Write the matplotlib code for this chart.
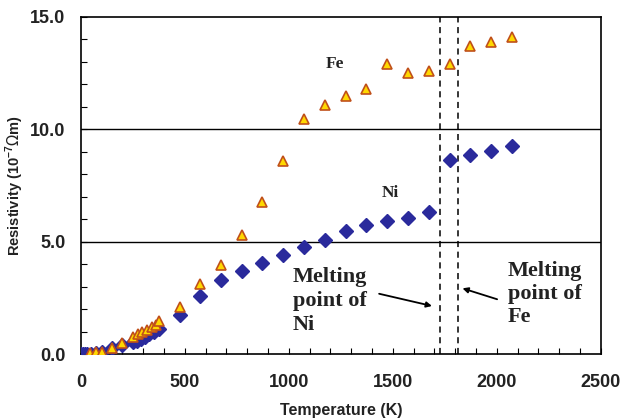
import numpy as np
import matplotlib
matplotlib.use("Agg")
import matplotlib.pyplot as plt
from matplotlib.ticker import MultipleLocator, FormatStrFormatter

# Fe resistivity (10^-7 Ohm m) vs temperature (K)
fe_T = [45, 75, 100, 150, 200, 250, 275, 295, 320, 340, 360, 375,
        475, 573, 673, 773, 873, 973, 1073, 1173, 1273, 1373, 1473,
        1573, 1673, 1773, 1873, 1973, 2073]
fe_rho = [0.03, 0.08, 0.10, 0.28, 0.50, 0.77, 0.87, 0.96, 1.07, 1.19, 1.29, 1.47,
          2.10, 3.11, 3.98, 5.29, 6.77, 8.58, 10.47, 11.07, 11.47, 11.80, 12.89,
          12.50, 12.59, 12.89, 13.69, 13.89, 14.10]

# Ni
ni_T = [0, 10, 20, 30, 50, 75, 100, 150, 200, 250, 270, 290, 310, 330, 350, 375,
        475, 573, 673, 773, 873, 973, 1073, 1173, 1273, 1373, 1473,
        1573, 1673, 1773, 1873, 1973, 2073]
ni_rho = [0.0, 0.0, 0.0, 0.0, 0.02, 0.05, 0.10, 0.25, 0.40, 0.52, 0.60, 0.68, 0.77,
          0.87, 0.97, 1.12,
          1.73, 2.58, 3.29, 3.70, 4.03, 4.40, 4.74, 5.07, 5.47, 5.76, 5.91,
          6.03, 6.30, 8.62, 8.84, 9.04, 9.26]

melt_ni = 1728
melt_fe = 1811

fig = plt.figure(figsize=(6.22, 4.2), dpi=100)
ax = fig.add_axes([0.130, 0.157, 0.836, 0.803])

ax.plot(ni_T, ni_rho, linestyle="none", marker="D", markersize=7,
        color="#2a2a9c", markeredgecolor="#2a2a9c", zorder=3)
ax.plot(fe_T, fe_rho, linestyle="none", marker="^", markersize=7,
        markerfacecolor="#ffd800", markeredgecolor="#c0501a",
        markeredgewidth=1.2, zorder=4)

for v in (5, 10):
    ax.axhline(v, color="black", linewidth=1.0, zorder=1)
for m in (melt_ni, melt_fe):
    ax.axvline(m, color="black", linewidth=1.1, linestyle=(0, (4, 3)), zorder=2)

ax.set_xlim(0, 2500)
ax.set_ylim(0, 15)
ax.xaxis.set_major_locator(MultipleLocator(500))
ax.xaxis.set_minor_locator(MultipleLocator(100))
ax.yaxis.set_major_locator(MultipleLocator(5))
ax.yaxis.set_minor_locator(MultipleLocator(1))
ax.yaxis.set_major_formatter(FormatStrFormatter("%.1f"))
ax.tick_params(which="both", direction="in", length=4, width=0.8)
ax.tick_params(axis="x", which="major", labelsize=13, pad=14)
ax.tick_params(axis="y", which="major", labelsize=13, pad=11)
for lab in ax.get_xticklabels() + ax.get_yticklabels():
    lab.set_fontweight("bold")
    lab.set_family("Liberation Sans")
    lab.set_color("#222222")
for s in ax.spines.values():
    s.set_linewidth(1.2)

ax.set_xlabel("Temperature (K)", fontsize=11.5, fontweight="bold",
              family="Liberation Sans", labelpad=9, color="#222222")
ax.set_ylabel(r"Resistivity (10$^{\mathregular{-7}}$$\Omega$m)", fontsize=10.5,
              fontweight="bold", family="Liberation Sans", color="#222222")
ax.yaxis.set_label_coords(-0.106, 0.5)

serif = dict(family="Liberation Serif", fontweight="bold", color="#222222")
ax.text(1220, 12.9, "Fe", fontsize=12.5, ha="center", va="center", **serif)
ax.text(1486, 7.15, "Ni", fontsize=12.5, ha="center", va="center", **serif)
ax.text(1019, 2.35, "Melting\npoint of\nNi", fontsize=16, ha="left", va="center",
        linespacing=1.25, **serif)
ax.text(2053, 2.65, "Melting\npoint of\nFe", fontsize=16, ha="left", va="center",
        linespacing=1.2, **serif)

arrow = dict(arrowstyle="-|>", color="black", lw=1.3, mutation_scale=8)
ax.annotate("", xy=(1701, 2.11), xytext=(1421, 2.71), arrowprops=arrow)
ax.annotate("", xy=(1822, 2.96), xytext=(2014, 2.4), arrowprops=arrow)

fig.savefig("out.png", dpi=100)
